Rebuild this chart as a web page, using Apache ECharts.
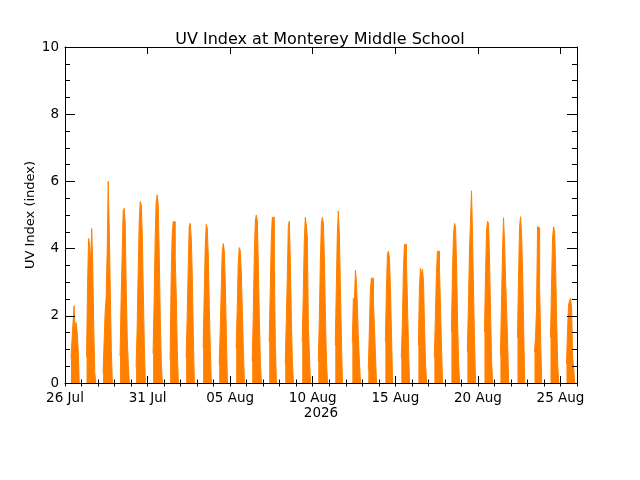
<!DOCTYPE html>
<html>
<head>
<meta charset="utf-8">
<script src="https://cdn.jsdelivr.net/npm/echarts@6/dist/echarts.min.js"></script>
<style>html,body{margin:0;padding:0;background:#fff}#c{width:640px;height:480px}</style>
</head>
<body>
<div id="c"></div>
<script>
// ---- data ----
const title = 'UV Index at Monterey Middle School';
const yName = 'UV Index (index)';
const yearLabel = '2026';
const axisStart = '2026-07-26';
const axisDays = 31;
const monthNames = ['Jan','Feb','Mar','Apr','May','Jun','Jul','Aug','Sep','Oct','Nov','Dec'];
const dates = ['2026-07-26','2026-07-27','2026-07-28','2026-07-29','2026-07-30','2026-07-31',
  '2026-08-01','2026-08-02','2026-08-03','2026-08-04','2026-08-05','2026-08-06','2026-08-07',
  '2026-08-08','2026-08-09','2026-08-10','2026-08-11','2026-08-12','2026-08-13','2026-08-14',
  '2026-08-15','2026-08-16','2026-08-17','2026-08-18','2026-08-19','2026-08-20','2026-08-21',
  '2026-08-22','2026-08-23','2026-08-24','2026-08-25'];
// hour of the first daytime sample of each day
const firstHour = [8.7,7.3,7.3,8.0,7.3,8.0,8.7,8.0,8.7,8.0,8.7,8.0,8.7,8.0,8.7,8.0,
  8.7,9.5,8.7,9.5,8.7,9.5,8.7,9.5,8.7,9.5,8.7,9.5,10.2,9.5,8.7];
const sampleStepHours = 1.5;
const uv = [
  [0.75,1.3,1.8,2.3,1.55,1.8,1.5,1.0],
  [0.78,2.95,4.3,4.1,3.6,4.6,3.55,1.65,0.3],
  [0.3,1.2,2.1,2.55,3.9,6.0,4.6,2.75,1.0],
  [0.8,2.45,3.75,5.1,5.2,4.75,2.8,1.32,0.55],
  [0.47,1.6,3.3,4.77,5.4,5.3,4.45,2.7,1.08],
  [0.87,2.4,4.3,5.4,5.6,5.3,3.75,1.9,0.55],
  [0.7,3.05,4.4,4.8,4.8,3.72,2.58,1.0],
  [0.75,1.93,3.38,4.67,4.75,4.3,3.2,1.38],
  [1.05,2.5,4.0,4.72,4.62,3.8,2.28,1.0],
  [0.55,1.52,2.75,3.93,4.15,3.93,2.92,1.42],
  [1.03,2.15,3.55,4.03,3.93,3.3,2.15,1.03],
  [0.65,1.93,3.72,4.82,5.0,4.82,3.47,1.82,0.55],
  [1.22,2.72,4.22,4.93,4.93,3.45,1.15],
  [0.55,1.8,3.12,4.68,4.82,3.55,1.82,0.6],
  [1.22,2.62,4.22,4.93,4.7,4.32,1.62,0.82],
  [0.65,1.82,3.55,4.75,4.93,4.75,3.62,1.92,0.62],
  [1.12,2.78,4.42,5.12,4.42,2.82,1.27],
  [1.2,2.52,2.45,3.35,3.02,2.22,1.22,0.55],
  [0.4,1.52,2.75,3.12,3.12,2.45,1.65,0.82],
  [1.22,2.75,3.85,3.92,3.72,2.75,1.42],
  [0.75,1.72,3.32,4.12,4.12,3.62,2.32,1.02],
  [1.12,2.82,3.42,3.22,3.38,3.02,1.65,0.55],
  [0.75,1.95,3.25,3.92,3.92,3.38,2.22,1.02],
  [1.52,3.22,4.42,4.75,4.65,3.55,1.82,0.62],
  [0.92,2.32,3.9,4.8,5.72,4.38,2.68,1.18],
  [1.52,3.12,4.52,4.82,4.75,3.62,2.0,0.62],
  [0.82,2.32,3.85,4.92,4.22,3.12,2.18,1.22],
  [1.35,3.12,4.65,4.95,4.42,3.32,1.65],
  [0.92,1.35,2.22,4.65,4.62,2.82,1.28],
  [1.35,2.92,4.32,4.65,4.52,3.42,1.82,0.55],
  [0.58,1.52,2.32,2.45,2.52,2.22,0.75,0.45]
];
const yTicks = [0,2,4,6,8,10];

// ---- build series (x in days since axisStart); days separated by gaps ----
const DAY = 86400000;
const t0 = Date.parse(axisStart + 'T00:00:00Z');
const points = [];
dates.forEach((d, i) => {
  const off = (Date.parse(d + 'T00:00:00Z') - t0) / DAY;
  const vals = uv[i];
  vals.forEach((v, k) => {
    points.push([off + (firstHour[i] + k * sampleStepHours) / 24, v]);
  });
  points.push([off + (firstHour[i] + vals.length * sampleStepHours) / 24, 0]);
  points.push([off + (firstHour[i] + vals.length * sampleStepHours) / 24 + 0.01, null]);
});

function fmtDay(v) {
  if (Math.abs(v - Math.round(v)) > 1e-6 || v > axisDays - 1) return '';
  const d = new Date(t0 + Math.round(v) * DAY);
  const dd = String(d.getUTCDate()).padStart(2, '0');
  return dd + ' ' + monthNames[d.getUTCMonth()];
}

const FONT = 'DejaVu Sans';
const orange = '#ff8000';
const black = '#000';
const baseX = {type:'value', min:0, max:axisDays, gridIndex:0, z:5, splitLine:{show:false},
  axisLine:{show:true, onZero:false, lineStyle:{color:black, width:1}}};
const chart = echarts.init(document.getElementById('c'), null, {renderer:'canvas'});
chart.setOption({
  animation:false,
  backgroundColor:'#fff',
  title:{text:title, left:'center', top:27,
    textStyle:{fontFamily:FONT, fontSize:16, fontWeight:'normal', color:black}},
  grid:{left:65, right:63, top:47, bottom:97, containLabel:false},
  xAxis:[
    Object.assign({}, baseX, {position:'bottom', interval:5,
      axisTick:{show:true, inside:true, length:7, lineStyle:{color:black}},
      axisLabel:{show:true, formatter:fmtDay, margin:8, fontFamily:FONT, fontSize:13.5, color:black},
      name:yearLabel, nameLocation:'middle', nameGap:23, nameMoveOverlap:false,
      nameTextStyle:{fontFamily:FONT, fontSize:13.5, color:black}}),
    Object.assign({}, baseX, {position:'bottom', interval:1, axisLine:{show:false},
      axisTick:{show:true, inside:true, length:3.5, lineStyle:{color:black}},
      axisLabel:{show:false}}),
    Object.assign({}, baseX, {position:'top', interval:5,
      axisTick:{show:true, inside:true, length:7, lineStyle:{color:black}},
      axisLabel:{show:false}}),
    Object.assign({}, baseX, {position:'top', interval:1, axisLine:{show:false},
      axisTick:{show:true, inside:true, length:3.5, lineStyle:{color:black}},
      axisLabel:{show:false}})
  ],
  yAxis:[
    {type:'value', position:'left', min:yTicks[0], max:yTicks[yTicks.length-1], interval:2,
      z:5, splitLine:{show:false},
      axisLine:{show:true, onZero:false, lineStyle:{color:black}},
      axisTick:{show:true, inside:true, length:10, lineStyle:{color:black}},
      minorTick:{show:true, splitNumber:4, length:5, lineStyle:{color:black}},
      axisLabel:{show:true, margin:6, fontFamily:FONT, fontSize:13.5, color:black},
      name:yName, nameLocation:'middle', nameGap:28, nameRotate:90, nameMoveOverlap:false,
      nameTextStyle:{fontFamily:FONT, fontSize:13, color:black}},
    {type:'value', position:'right', min:yTicks[0], max:yTicks[yTicks.length-1], interval:2,
      z:5, splitLine:{show:false},
      axisLine:{show:true, onZero:false, lineStyle:{color:black}},
      axisTick:{show:true, inside:true, length:10, lineStyle:{color:black}},
      minorTick:{show:true, splitNumber:4, length:5, lineStyle:{color:black}},
      axisLabel:{show:false}}
  ],
  series:[{
    type:'line', xAxisIndex:0, yAxisIndex:0, data:points, step:'end',
    connectNulls:false, showSymbol:false, symbol:'none', silent:true,
    lineStyle:{width:1, color:orange},
    areaStyle:{color:orange, opacity:1},
    itemStyle:{color:orange},
    z:1
  }]
});
</script>
</body>
</html>
